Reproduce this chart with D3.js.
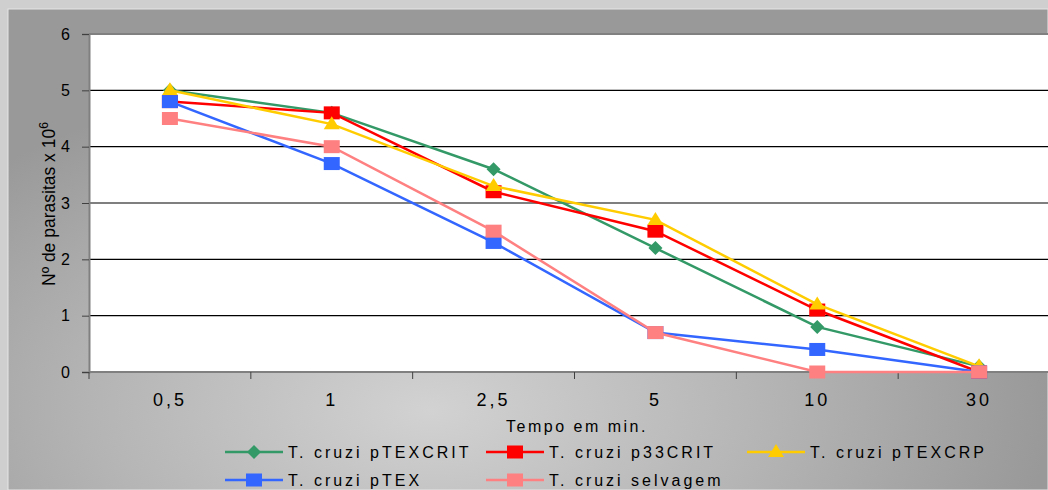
<!DOCTYPE html>
<html>
<head>
<meta charset="utf-8">
<script src="https://cdn.jsdelivr.net/npm/d3@7"></script>
<style>
  body { margin: 0; background: #d0d0d0; overflow: hidden; }
  text { font-family: "Liberation Sans", Arial, sans-serif; fill: #000; }
</style>
</head>
<body>
<div id="chart"></div>
<script>

// data
var categories = ["0,5", "1", "2,5", "5", "10", "30"];
var seriesNames = ["T. cruzi pTEXCRIT", "T. cruzi p33CRIT", "T. cruzi pTEXCRP", "T. cruzi pTEX", "T. cruzi selvagem"];
var pTEXCRIT = [5.0, 4.6, 3.6, 2.2, 0.8, 0.1];
var p33CRIT  = [4.8, 4.6, 3.2, 2.5, 1.1, 0.0];
var pTEXCRP  = [5.0, 4.4, 3.3, 2.7, 1.2, 0.1];
var pTEX     = [4.8, 3.7, 2.3, 0.7, 0.4, 0.0];
var selvagem = [4.5, 4.0, 2.5, 0.7, 0.0, 0.0];
var yTicks = [0, 1, 2, 3, 4, 5, 6];

var series = [
  {name: seriesNames[0], values: pTEXCRIT, color: "#339966", shape: "diamond"},
  {name: seriesNames[1], values: p33CRIT,  color: "#ff0000", shape: "square"},
  {name: seriesNames[2], values: pTEXCRP,  color: "#ffcc00", shape: "triangle"},
  {name: seriesNames[3], values: pTEX,     color: "#3366ff", shape: "square"},
  {name: seriesNames[4], values: selvagem, color: "#ff8080", shape: "square"}
];

var W = 1048, H = 490;
var plot = {left: 89, top: 34, right: 1060, bottom: 372};

var svg = d3.select("#chart")
  .append("svg")
    .attr("width", W)
    .attr("height", H);

// gray background with soft light patch
var defs = svg.append("defs");
var grad = defs.append("radialGradient")
    .attr("id", "bg")
    .attr("gradientUnits", "userSpaceOnUse")
    .attr("cx", 430).attr("cy", 410).attr("r", 620)
    .attr("gradientTransform", "translate(430,410) scale(1,0.55) translate(-430,-410)");
grad.append("stop").attr("offset", "0%").attr("stop-color", "#d2d2d2");
grad.append("stop").attr("offset", "55%").attr("stop-color", "#b4b4b4");
grad.append("stop").attr("offset", "100%").attr("stop-color", "#999999");

svg.append("rect")
    .attr("x", 0).attr("y", 0).attr("width", W).attr("height", H)
    .attr("fill", "#cfcfcf");
svg.append("rect")
    .attr("x", 8).attr("y", 9).attr("width", W - 8).attr("height", H - 9)
    .attr("fill", "url(#bg)")
    .attr("stroke", "#e6e6e6");

// scales
var x = d3.scaleBand()
    .domain(categories)
    .range([plot.left, plot.right])
    .padding(0);

var y = d3.scaleLinear()
    .domain([0, 6])
    .range([plot.bottom, plot.top]);

function cx(i) { return x(categories[i]) + x.bandwidth() / 2; }

// plot area
svg.append("rect")
    .attr("x", plot.left).attr("y", plot.top)
    .attr("width", plot.right - plot.left).attr("height", plot.bottom - plot.top)
    .attr("fill", "#ffffff");

// gridlines
svg.append("g")
  .selectAll("line")
  .data(yTicks.filter(function(d) { return d > 0 && d < 6; }))
  .enter().append("line")
    .attr("x1", plot.left).attr("x2", plot.right)
    .attr("y1", function(d) { return y(d); })
    .attr("y2", function(d) { return y(d); })
    .attr("stroke", "#000")
    .attr("stroke-width", 1.2);

// top border of plot
svg.append("line")
    .attr("x1", plot.left).attr("x2", plot.right)
    .attr("y1", plot.top).attr("y2", plot.top)
    .attr("stroke", "#808080").attr("stroke-width", 2);

// Y axis
var yAxis = svg.append("g")
    .attr("transform", "translate(" + plot.left + ",0)")
    .call(d3.axisLeft(y).tickValues(yTicks).tickSize(7).tickPadding(12).tickFormat(d3.format("d")));
yAxis.select(".domain").attr("stroke", "#808080").attr("stroke-width", 2);
yAxis.selectAll(".tick line").attr("stroke", "#404040");
yAxis.selectAll("text")
    .style("font-family", "'Liberation Sans', Arial, sans-serif")
    .style("font-size", "16px")
    .attr("fill", "#000");

// X axis: tick marks on category boundaries
var bounds = categories.map(function(c) { return x(c); });
svg.append("line")
    .attr("x1", plot.left).attr("x2", plot.right)
    .attr("y1", plot.bottom).attr("y2", plot.bottom)
    .attr("stroke", "#808080").attr("stroke-width", 2);
svg.append("g")
  .selectAll("line")
  .data(bounds)
  .enter().append("line")
    .attr("x1", function(d) { return d; }).attr("x2", function(d) { return d; })
    .attr("y1", plot.bottom).attr("y2", plot.bottom + 7)
    .attr("stroke", "#404040");

svg.append("g")
  .selectAll("text")
  .data(categories)
  .enter().append("text")
    .attr("x", function(d, i) { return cx(i); })
    .attr("y", 406)
    .attr("text-anchor", "middle")
    .style("font-size", "18px")
    .style("letter-spacing", "3px")
    .text(function(d) { return d; });

// axis titles
svg.append("text")
    .attr("x", 577).attr("y", 432)
    .attr("text-anchor", "middle")
    .style("font-size", "16px")
    .style("letter-spacing", "2.5px")
    .text("Tempo em min.");

var yTitle = svg.append("text")
    .attr("transform", "translate(55,286) rotate(-90)")
    .attr("text-anchor", "start")
    .style("font-size", "17.5px");
yTitle.append("tspan").text("Nº de parasitas x 10");
yTitle.append("tspan").attr("dy", -7).style("font-size", "12px").text("6");

// markers
function drawMarker(g, shape, color, px, py) {
  if (shape === "diamond") {
    g.append("path")
      .attr("d", "M" + px + "," + (py - 7) + "L" + (px + 7) + "," + py + "L" + px + "," + (py + 7) + "L" + (px - 7) + "," + py + "Z")
      .attr("fill", color);
  } else if (shape === "triangle") {
    g.append("path")
      .attr("d", "M" + px + "," + (py - 8) + "L" + (px + 8) + "," + (py + 5) + "L" + (px - 8) + "," + (py + 5) + "Z")
      .attr("fill", color);
  } else {
    g.append("rect")
      .attr("x", px - 8).attr("y", py - 6.5)
      .attr("width", 16).attr("height", 13)
      .attr("fill", color);
  }
}

var line = d3.line()
    .x(function(d, i) { return cx(i); })
    .y(function(d) { return y(d); });

series.forEach(function(s) {
  var g = svg.append("g");
  g.append("path")
    .datum(s.values)
    .attr("d", line)
    .attr("fill", "none")
    .attr("stroke", s.color)
    .attr("stroke-width", 2.5);
  s.values.forEach(function(v, i) {
    drawMarker(g, s.shape, s.color, cx(i), y(v));
  });
});

// legend
var legendPos = [
  {x: 225, y: 452}, {x: 486, y: 452}, {x: 747, y: 452},
  {x: 225, y: 480}, {x: 486, y: 480}
];
series.forEach(function(s, i) {
  var p = legendPos[i];
  var g = svg.append("g");
  g.append("line")
    .attr("x1", p.x).attr("x2", p.x + 58)
    .attr("y1", p.y).attr("y2", p.y)
    .attr("stroke", s.color).attr("stroke-width", 2.5);
  drawMarker(g, s.shape, s.color, p.x + 29, p.y);
  g.append("text")
    .attr("x", p.x + 63).attr("y", p.y + 5.5)
    .style("font-size", "16px")
    .style("letter-spacing", "3px")
    .text(s.name);
});

</script>
</body>
</html>
